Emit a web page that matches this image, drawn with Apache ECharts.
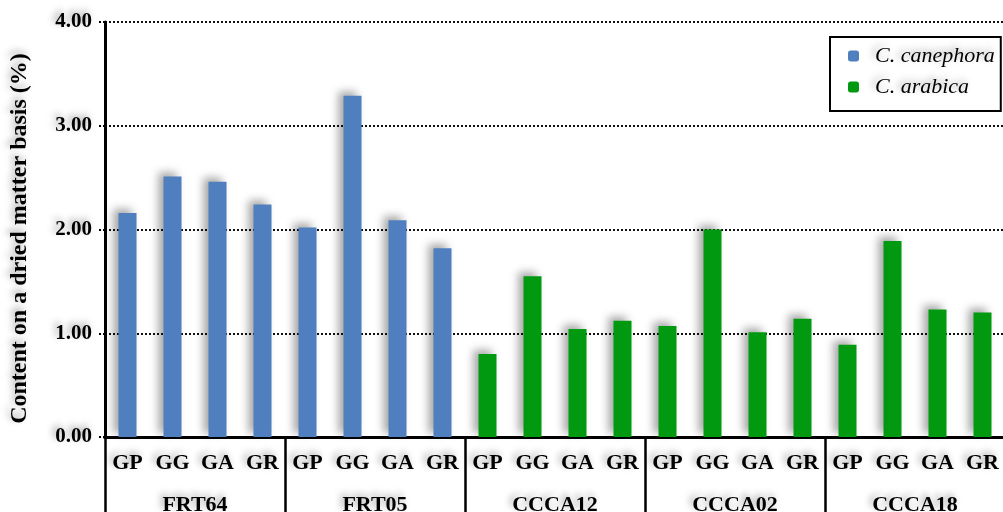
<!DOCTYPE html>
<html><head><meta charset="utf-8">
<script src="https://cdn.jsdelivr.net/npm/echarts@6/dist/echarts.min.js"></script>
<style>html,body{margin:0;padding:0;background:#fff}#c{width:1003px;height:512px}</style>
</head><body><div id="c"></div>
<script>
const categories = ['GP','GG','GA','GR','GP','GG','GA','GR','GP','GG','GA','GR','GP','GG','GA','GR','GP','GG','GA','GR'];
const groups = ['FRT64','FRT05','CCCA12','CCCA02','CCCA18'];
const canephoraValues = [2.16,2.51,2.46,2.24, 2.02,3.29,2.09,1.82];
const arabicaValues = [0.80,1.55,1.04,1.12, 1.07,2.00,1.01,1.14, 0.89,1.89,1.23,1.20];
const yTicks = [0,1,2,3,4];

const canData = categories.map((c,i)=> i < canephoraValues.length ? canephoraValues[i] : '-');
const araData = categories.map((c,i)=> i >= canephoraValues.length ? arabicaValues[i-canephoraValues.length] : '-');

const serif = '"Liberation Serif","Times New Roman",serif';
const tsh = {textShadowColor:'rgba(0,0,0,0.35)', textShadowBlur:7, textShadowOffsetX:-3, textShadowOffsetY:-3};
const barShadow = {shadowColor:'rgba(0,0,0,0.35)', shadowBlur:9, shadowOffsetX:-5, shadowOffsetY:-4};

const chart = echarts.init(document.getElementById('c'));
chart.setOption({
  animation:false,
  grid:{left:105, right:-2, top:22, bottom:75, containLabel:false, outerBoundsMode:'none'},
  legend:{
    orient:'vertical', left:830, top:37, itemWidth:11, itemHeight:11, itemGap:9,
    borderColor:'#000', borderWidth:2, padding:[8,6,13,18],
    textStyle:Object.assign({fontFamily:serif, fontStyle:'italic', fontSize:22, color:'#000', padding:[0,0,0,11]}, tsh),
    data:['C. canephora','C. arabica']
  },
  xAxis:[{
    type:'category', data:categories, position:'bottom',
    axisLine:{lineStyle:{color:'#000', width:3}},
    axisTick:{alignWithLabel:true, length:10, lineStyle:{color:'#000', width:2.5}},
    axisLabel:Object.assign({fontFamily:serif, fontWeight:'bold', fontSize:22, color:'#000', margin:15, interval:0}, tsh)
  },{
    type:'category', data:groups, position:'bottom',
    axisLine:{show:true, lineStyle:{color:'#000', width:3}},
    axisTick:{show:true, length:80, lineStyle:{color:'#000', width:2.5}},
    axisLabel:Object.assign({fontFamily:serif, fontWeight:'bold', fontSize:22, color:'#000', margin:57}, tsh)
  }],
  yAxis:{
    type:'value', min:yTicks[0], max:yTicks[yTicks.length-1], interval:1,
    name:'Content on a dried matter basis (%)', nameLocation:'middle', nameGap:73,
    nameTextStyle:Object.assign({fontFamily:serif, fontWeight:'bold', fontSize:24, color:'#000', padding:[0,18,0,0]}, tsh),
    axisLine:{show:true, lineStyle:{color:'#000', width:3}},
    axisTick:{show:true, length:8, lineStyle:{color:'#000', width:2, type:'dotted'}},
    axisLabel:Object.assign({fontFamily:serif, fontWeight:'bold', fontSize:21, color:'#000', margin:13, formatter:v=>v.toFixed(2)}, tsh),
    splitLine:{lineStyle:{color:'#111', width:2, type:'dotted'}}
  },
  series:[
    {name:'C. canephora', type:'bar', data:canData, barWidth:18, barGap:'-100%', itemStyle:Object.assign({color:'#4F7FBE'}, barShadow)},
    {name:'C. arabica', type:'bar', data:araData, barWidth:18, barGap:'-100%', itemStyle:Object.assign({color:'#00990F'}, barShadow)}
  ]
});
</script></body></html>
